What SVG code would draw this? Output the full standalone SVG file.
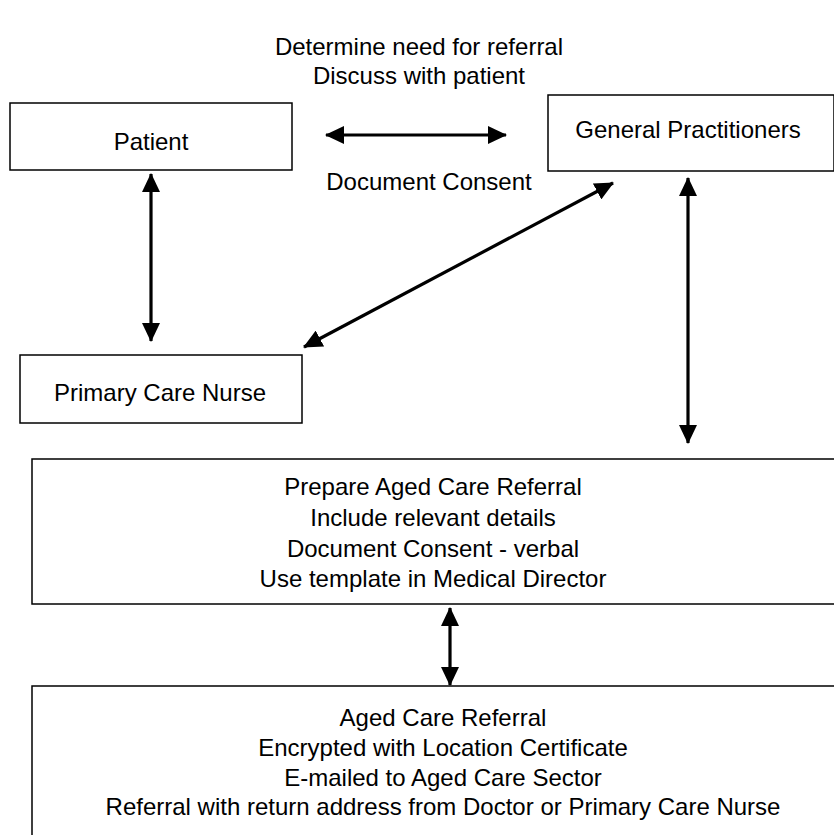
<svg xmlns="http://www.w3.org/2000/svg" width="834" height="835" viewBox="0 0 834 835">
  <style>
    .box { fill: #ffffff; stroke: #000000; stroke-width: 1.5; }
    .lbl { font-family: "Liberation Sans", Arial, sans-serif; font-size: 24px; fill: #000000; text-anchor: middle; }
    .link { fill: none; stroke: #000000; stroke-width: 3.2; marker-start: url(#head); marker-end: url(#head); }
  </style>
  <defs>
    <marker id="head" viewBox="0 0 19 18" refX="18" refY="9" markerWidth="19" markerHeight="18" markerUnits="userSpaceOnUse" orient="auto-start-reverse">
      <path d="M0,0 L19,9 L0,18 Z" fill="#000000"/>
    </marker>
  </defs>
  <rect width="834" height="835" fill="#ffffff"/>

  <g id="title">
    <text class="lbl" x="419" y="55" font-size="23">Determine need for referral</text>
    <text class="lbl" x="419" y="84" font-size="23">Discuss with patient</text>
  </g>

  <g id="patient">
    <rect class="box" x="10" y="103" width="282" height="67"/>
    <text class="lbl" x="151" y="150">Patient</text>
  </g>

  <g id="general-practitioners">
    <rect class="box" x="548" y="95" width="286" height="76"/>
    <text class="lbl" x="688" y="138">General Practitioners</text>
  </g>

  <g id="primary-care-nurse">
    <rect class="box" x="20" y="355" width="282" height="68"/>
    <text class="lbl" x="160" y="401">Primary Care Nurse</text>
  </g>

  <g id="prepare-referral">
    <rect class="box" x="32" y="459" width="810" height="145"/>
    <text class="lbl" x="433" y="495">Prepare Aged Care Referral</text>
    <text class="lbl" x="433" y="526">Include relevant details</text>
    <text class="lbl" x="433" y="557">Document Consent - verbal</text>
    <text class="lbl" x="433" y="587">Use template in Medical Director</text>
  </g>

  <g id="aged-care-referral">
    <rect class="box" x="32" y="686" width="830" height="170"/>
    <text class="lbl" x="443" y="726">Aged Care Referral</text>
    <text class="lbl" x="443" y="756">Encrypted with Location Certificate</text>
    <text class="lbl" x="443" y="786">E-mailed to Aged Care Sector</text>
    <text class="lbl" x="443" y="815">Referral with return address from Doctor or Primary Care Nurse</text>
  </g>

  <g id="connectors">
    <line class="link" x1="326" y1="135" x2="506" y2="135"/>
    <text class="lbl" x="429" y="190">Document Consent</text>
    <line class="link" x1="151" y1="174" x2="151" y2="341"/>
    <line class="link" x1="613" y1="183" x2="304" y2="347"/>
    <line class="link" x1="688" y1="178" x2="688" y2="443"/>
    <line class="link" x1="450" y1="608" x2="450" y2="685"/>
  </g>
</svg>
